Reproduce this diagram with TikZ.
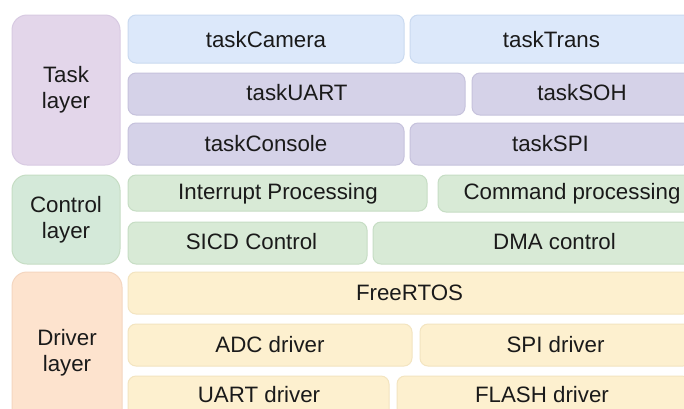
\documentclass[tikz,border=0pt]{standalone}
\usepackage{fontspec}
\setmainfont{Liberation Sans}
\definecolor{tasklab}{HTML}{E3D6EA}
\definecolor{tasklabd}{HTML}{D8CAE2}
\definecolor{blueb}{HTML}{DCE8FA}
\definecolor{bluebd}{HTML}{CADAF0}
\definecolor{purb}{HTML}{D5D2E8}
\definecolor{purbd}{HTML}{C6C2DC}
\definecolor{ctrllab}{HTML}{D4E9D9}
\definecolor{greenb}{HTML}{D8EAD6}
\definecolor{greenbd}{HTML}{C6DDC4}
\definecolor{drvlab}{HTML}{FDE3CE}
\definecolor{drvlabd}{HTML}{F4D6C0}
\definecolor{orgb}{HTML}{FDF0CF}
\definecolor{orgbd}{HTML}{F3E4C0}
\definecolor{txt}{HTML}{1A1A1A}
\tikzset{
  lab/.style={rounded corners=15pt, line width=1pt},
  box/.style={rounded corners=8pt, line width=1pt},
  txtlbl/.style={text=txt, font=\fontsize{22.3}{26}\selectfont, inner sep=0pt, align=center},
}
\begin{document}
\begin{tikzpicture}[x=1pt,y=-1pt]
\useasboundingbox (0,0) rectangle (684,408);
\fill[white] (0,0) rectangle (684,408);
% left labels
\draw[lab, fill=tasklab, draw=tasklabd] (12,15) rectangle (120,165);
\node[txtlbl] (tl) at (66,90) {Task\\layer};
\draw[lab, fill=ctrllab, draw=greenbd] (12,175) rectangle (120,264);
\node[txtlbl] (cl) at (66,220) {Control\\layer};
\draw[lab, fill=drvlab, draw=drvlabd] (12,272) rectangle (122,432);
\node[txtlbl] (dl) at (67,353) {Driver\\layer};
% task rows
\draw[box, fill=blueb, draw=bluebd] (128,15) rectangle (404,63);
\node[txtlbl] (tcam) at (266,40) {taskCamera};
\draw[box, fill=blueb, draw=bluebd] (410,15) rectangle (693,63);
\node[txtlbl] (ttr) at (551.5,40) {taskTrans};
\draw[box, fill=purb, draw=purbd] (128,73) rectangle (465,115);
\node[txtlbl] (tuart) at (297,93) {taskUART};
\draw[box, fill=purb, draw=purbd] (472,73) rectangle (692,115);
\node[txtlbl] (tsoh) at (582,93) {taskSOH};
\draw[box, fill=purb, draw=purbd] (128,123) rectangle (404,165);
\node[txtlbl] (tcon) at (266,144) {taskConsole};
\draw[box, fill=purb, draw=purbd] (410,123) rectangle (691,165);
\node[txtlbl] (tspi) at (550.5,144) {taskSPI};
% control rows
\draw[box, fill=greenb, draw=greenbd] (128,175) rectangle (427,211);
\node[txtlbl] (intp) at (278,194) {Interrupt Processing};
\draw[box, fill=greenb, draw=greenbd] (438,175) rectangle (706,212);
\node[txtlbl] (cmdp) at (572,194) {Command processing};
\draw[box, fill=greenb, draw=greenbd] (128,222) rectangle (367,264);
\node[txtlbl] (sicd) at (251.5,242) {SICD Control};
\draw[box, fill=greenb, draw=greenbd] (373,222) rectangle (736,264);
\node[txtlbl] (dma) at (554.5,242) {DMA control};
% driver rows
\draw[box, fill=orgb, draw=orgbd] (128,272) rectangle (691,314);
\node[txtlbl] (rtos) at (409.5,293) {FreeRTOS};
\draw[box, fill=orgb, draw=orgbd] (128,324) rectangle (412,366);
\node[txtlbl] (adc) at (270,345) {ADC driver};
\draw[box, fill=orgb, draw=orgbd] (420,324) rectangle (691,366);
\node[txtlbl] (spid) at (555.5,345) {SPI driver};
\draw[box, fill=orgb, draw=orgbd] (128,376) rectangle (389,420);
\node[txtlbl] (uartd) at (259,395) {UART driver};
\draw[box, fill=orgb, draw=orgbd] (397,376) rectangle (690,420);
\node[txtlbl] (flash) at (542,395) {FLASH driver};
\end{tikzpicture}
\end{document}
